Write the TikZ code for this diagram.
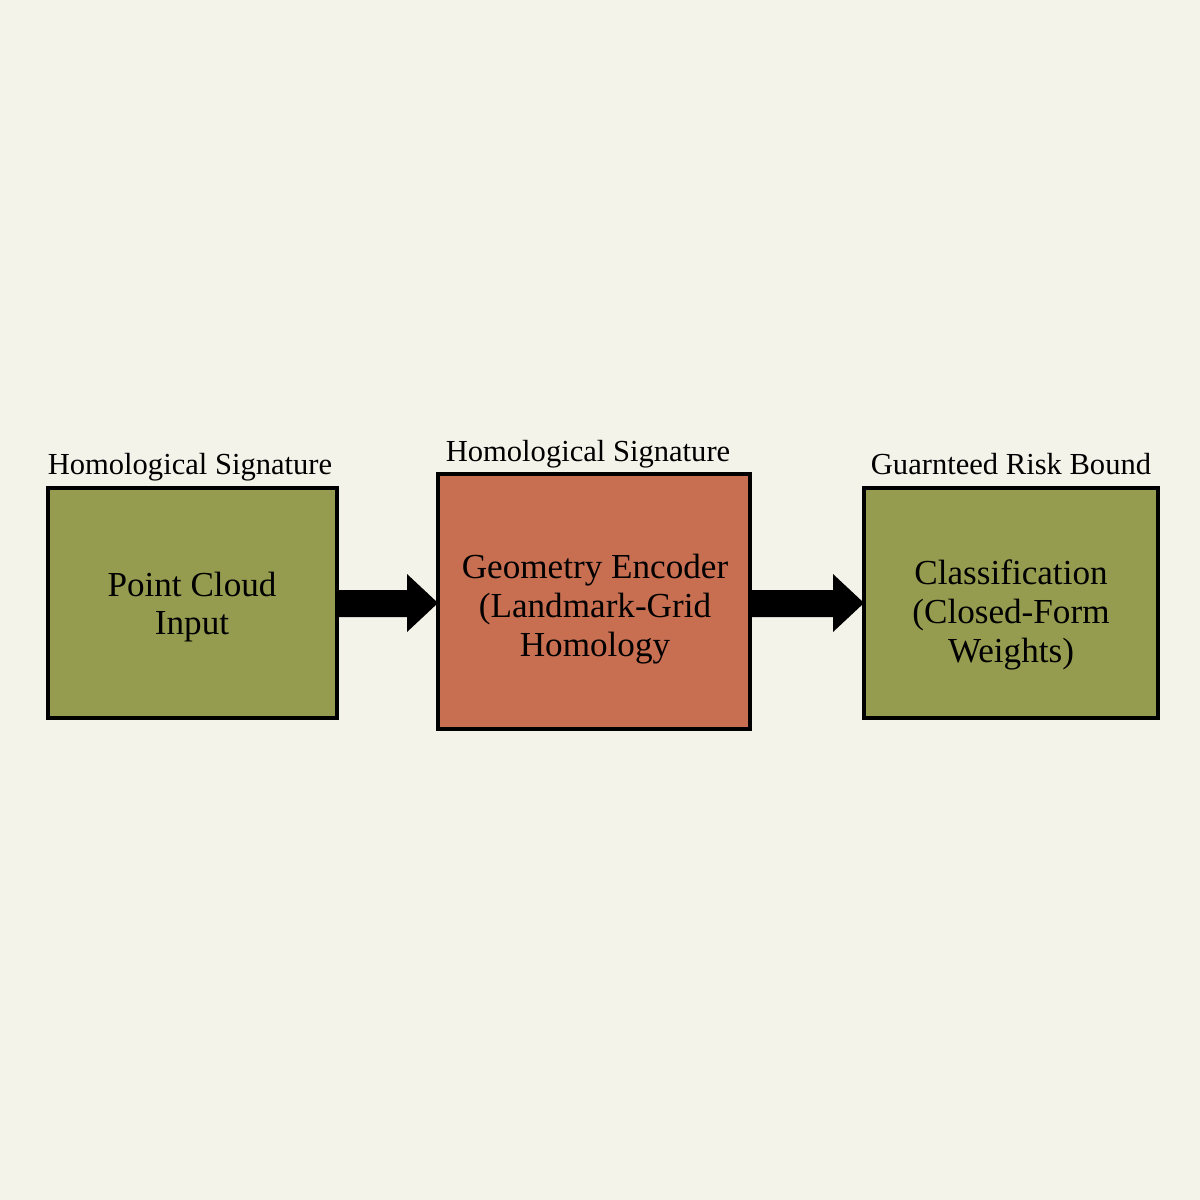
\documentclass[tikz,border=0pt]{standalone}
\usepackage{fontspec}
\setmainfont{Liberation Serif}
\definecolor{bg}{HTML}{F4F3E9}
\definecolor{olive}{HTML}{969C4F}
\definecolor{terra}{HTML}{C86F51}
\begin{document}
\begin{tikzpicture}[x=0.02cm,y=-0.02cm,
  box/.style={draw=black,line width=2.2pt,inner sep=0pt},
  lbl/.style={font=\fontsize{17.4}{20}\selectfont,inner sep=0pt,anchor=base},
  txt/.style={font=\fontsize{20}{22}\selectfont,align=center,inner sep=0pt},
  blockarrow/.style={fill=black}]
\fill[bg] (0,0) rectangle (1200,1200);
\useasboundingbox (0,0) rectangle (1200,1200);
% boxes
\filldraw[box,fill=olive] (48,488) rectangle (337,718);
\coordinate (b1) at (192.5,603);
\filldraw[box,fill=terra] (438,474) rectangle (750,729);
\coordinate (b2) at (594,603);
\filldraw[box,fill=olive] (864,488) rectangle (1158,718);
\coordinate (b3) at (1011,603);
\node[txt] (t1) at (192,607) {Point Cloud\\Input};
\node[txt] (t2) at (595,609) {Geometry Encoder\\(Landmark-Grid\\Homology};
\node[txt] (t3) at (1011,615) {Classification\\(Closed-Form\\Weights)};
% labels
\node[lbl] (l1) at (190,474) {Homological Signature};
\node[lbl] (l2) at (588,461) {Homological Signature};
\node[lbl] (l3) at (1011,474) {Guarnteed Risk Bound};
% arrows
\fill[blockarrow] (337,590) -- (407,590) -- (407,574) -- (438,603) -- (407,632) -- (407,617) -- (337,617) -- cycle;
\fill[blockarrow] (750,590) -- (833,590) -- (833,574) -- (864,603) -- (833,632) -- (833,617) -- (750,617) -- cycle;
\end{tikzpicture}
\end{document}
